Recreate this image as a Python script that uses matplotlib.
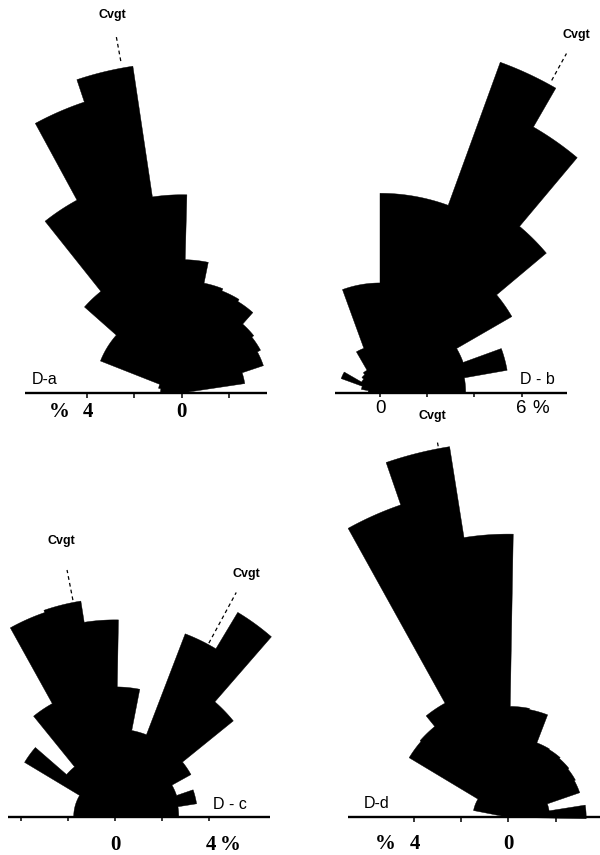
import numpy as np
import matplotlib.pyplot as plt

# frequency (%) per 10-degree class, counted from the right end of the baseline
freq_a = [0.3, 2.7, 3.65, 3.8, 3.9, 4.55, 4.65, 4.75, 5.65, 8.4, 14.0, 13.0, 9.3, 5.5, 3.7, 3.7, 1.0, 0.9]
freq_b = [3.63, 5.47, 3.75, 6.45, 9.2, 13.0, 14.9, 8.45, 8.45, 4.65, 4.65, 2.0, 1.1, 1.0, 0.9, 1.75, 0.8, 0.5]
freq_c = [2.7, 3.5, 2.76, 3.68, 6.45, 10.1, 8.3, 3.72, 5.5, 8.34, 9.25, 9.15, 5.48, 2.72, 4.47, 1.75, 1.75, 1.75]
freq_d = [3.3, 1.75, 3.2, 3.25, 3.3, 3.35, 3.38, 4.65, 4.7, 12.0, 15.9, 14.0, 5.53, 4.95, 4.9, 1.5, 1.5, 0.0]

# mean directions (degrees)
cvgt_a = [100.4]
cvgt_b = [61.2]
cvgt_c = [101.0, 61.6]
cvgt_d = [100.7]

W, H = 600, 855
S = 23.6  # pixels per percent

fig = plt.figure(figsize=(W / 100, H / 100), dpi=100)
fig.patch.set_facecolor('white')

SERIF = ['Liberation Serif', 'DejaVu Serif']
SANS = ['Liberation Sans', 'DejaVu Sans']


def make_ax(box, origin):
    x0, y0, w, h = box
    ox, oy = origin
    ax = fig.add_axes([x0 / W, 1 - (y0 + h) / H, w / W, h / H])
    ax.set_xlim((x0 - ox) / S, (x0 + w - ox) / S)
    ax.set_ylim((oy - (y0 + h)) / S, (oy - y0) / S)
    ax.axis('off')
    return ax


def rose(ax, freq, start):
    # one outline for all classes so no seams show between petals
    xs, ys = [0.0], [0.0]
    for i, f in enumerate(freq):
        t = np.radians(np.linspace(start + 10 * i, start + 10 * (i + 1), 16))
        xs.extend(f * np.cos(t))
        ys.extend(f * np.sin(t))
    xs.append(0.0)
    ys.append(0.0)
    ax.fill(xs, ys, facecolor='black', edgecolor='black', lw=0.3)


def baseline(ax, x0, x1, ticks):
    ax.plot([x0, x1], [0, 0], color='black', lw=1.7, solid_capstyle='butt')
    ax.vlines(ticks, -0.2, 0, color='black', lw=1.1)


def cvgt(ax, ang, r0, r1, rlab):
    a = np.radians(ang)
    ax.plot([r0 * np.cos(a), r1 * np.cos(a)], [r0 * np.sin(a), r1 * np.sin(a)],
            color='black', lw=0.9, ls=(0, (3, 2.5)))
    ax.text(rlab * np.cos(a), rlab * np.sin(a), 'Cvgt', ha='center', va='center',
            fontsize=9, fontweight='bold', family=SANS)


# D-a
ax = make_ax((0, 0, 300, 430), (181.7, 393))
rose(ax, freq_a, -1.5)
baseline(ax, -6.64, 3.61, [-4, -2, 0, 2])
cvgt(ax, cvgt_a[0], 14.3, 15.4, 16.3)
ax.text(-6.34, 0.27, 'D-a', fontsize=11.5, family=SANS, ha='left', va='bottom')
ax.text(-5.2, -0.8, '%', fontsize=15, fontweight='bold', family=SERIF, ha='center', va='center')
ax.text(-3.96, -0.8, '4', fontsize=15, fontweight='bold', family=SERIF, ha='center', va='center')
ax.text(0, -0.8, '0', fontsize=15, fontweight='bold', family=SERIF, ha='center', va='center')

# D-b
ax = make_ax((300, 0, 300, 430), (380, 392.7))
rose(ax, freq_b, 0)
baseline(ax, -1.91, 7.91, [0, 2, 4, 6])
cvgt(ax, cvgt_b[0], 15.1, 16.4, 17.3)
ax.text(5.93, 0.25, 'D - b', fontsize=11.5, family=SANS, ha='left', va='bottom')
ax.text(0, -0.66, '0', fontsize=13.5, family=SANS, ha='center', va='center')
ax.text(6, -0.66, '6', fontsize=13.5, family=SANS, ha='center', va='center')
ax.text(6.81, -0.66, '%', fontsize=13.5, family=SANS, ha='center', va='center')

# D-c
ax = make_ax((0, 430, 300, 425), (115, 816.7))
rose(ax, freq_c, -1)
baseline(ax, -4.53, 6.57, [-4, -2, 0, 2, 4])
cvgt(ax, cvgt_c[0], 9.35, 10.65, 11.9)
cvgt(ax, cvgt_c[1], 8.36, 10.8, 11.7)
ax.text(4.17, 0.21, 'D - c', fontsize=11.5, family=SANS, ha='left', va='bottom')
ax.text(0, -1.2, '0', fontsize=15, fontweight='bold', family=SERIF, ha='center', va='center')
ax.text(4.05, -1.2, '4', fontsize=15, fontweight='bold', family=SERIF, ha='center', va='center')
ax.text(4.9, -1.2, '%', fontsize=15, fontweight='bold', family=SERIF, ha='center', va='center')

# D-d
ax = make_ax((300, 430, 300, 425), (508.3, 817.3))
rose(ax, freq_d, -1)
baseline(ax, -6.78, 4.0, [-4, -2, 0, 2])
cvgt(ax, cvgt_d[0], 16.0, 16.25, 17.3)
ax.text(-6.14, 0.27, 'D-d', fontsize=11.5, family=SANS, ha='left', va='bottom')
ax.text(-5.2, -1.13, '%', fontsize=15, fontweight='bold', family=SERIF, ha='center', va='center')
ax.text(-3.95, -1.13, '4', fontsize=15, fontweight='bold', family=SERIF, ha='center', va='center')
ax.text(0, -1.13, '0', fontsize=15, fontweight='bold', family=SERIF, ha='center', va='center')

fig.savefig('out.png', dpi=100, facecolor='white')
